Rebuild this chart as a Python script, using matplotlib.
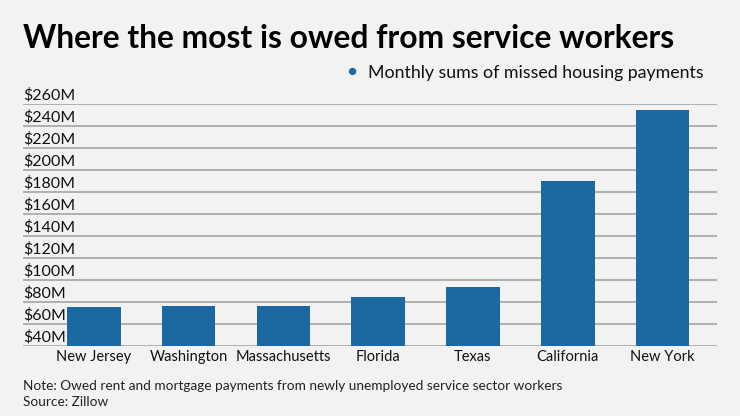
import matplotlib.pyplot as plt
from matplotlib.transforms import blended_transform_factory

states = ['New Jersey', 'Washington', 'Massachusetts', 'Florida', 'Texas', 'California', 'New York']
missed = [75.5, 76.4, 76.7, 84.3, 93.4, 189.9, 254.3]
yticks = [40, 60, 80, 100, 120, 140, 160, 180, 200, 220, 240, 260]
ylabels = ['$%dM' % v for v in yticks]

bg = '#f1f2f1'
blue = '#1b69a0'

plt.rcParams['font.family'] = ['Lato', 'DejaVu Sans']

fig = plt.figure(figsize=(7.4, 4.16), dpi=100, facecolor=bg)
ax = fig.add_axes([23 / 740, 70 / 416, (716.7 - 23) / 740, (346 - 104) / 416])
ax.set_facecolor(bg)

x = list(range(len(states)))
ax.bar(x, missed, width=0.566, color=blue, bottom=0, zorder=3)
ax.set_ylim(40, 260)
ax.set_xlim(-0.748, 6.572)

for v in yticks:
    ax.axhline(v, color='#a9aaa9', lw=1.3, zorder=1)

tr = blended_transform_factory(ax.transAxes, ax.transData)
for v, lab in zip(yticks, ylabels):
    ax.text(0, v + 1.2, lab, transform=tr, ha='left', va='bottom', fontsize=11.5, color='#111111')

ax.set_yticks([])
ax.set_xticks(x)
ax.set_xticklabels(states, fontsize=10.5, color='#111111')
ax.tick_params(axis='x', length=0, pad=3)
for s in ax.spines.values():
    s.set_visible(False)

fig.text(23 / 740, 1 - 38 / 416, 'Where the most is owed from service workers', fontsize=22.9,
         fontweight='bold', ha='left', va='center', color='#000000')
fig.text(352 / 740, 1 - 72 / 416, '\u25cf', fontsize=11, ha='center', va='center', color=blue)
fig.text(368 / 740, 1 - 73 / 416, 'Monthly sums of missed housing payments', fontsize=12.8,
         ha='left', va='center', color='#111111')
fig.text(23 / 740, 1 - 386 / 416, 'Note: Owed rent and mortgage payments from newly unemployed service sector workers',
         fontsize=9.8, ha='left', va='center', color='#222222')
fig.text(23 / 740, 1 - 402 / 416, 'Source: Zillow', fontsize=9.8, ha='left', va='center', color='#222222')

fig.savefig('out.png', dpi=100, facecolor=bg)
